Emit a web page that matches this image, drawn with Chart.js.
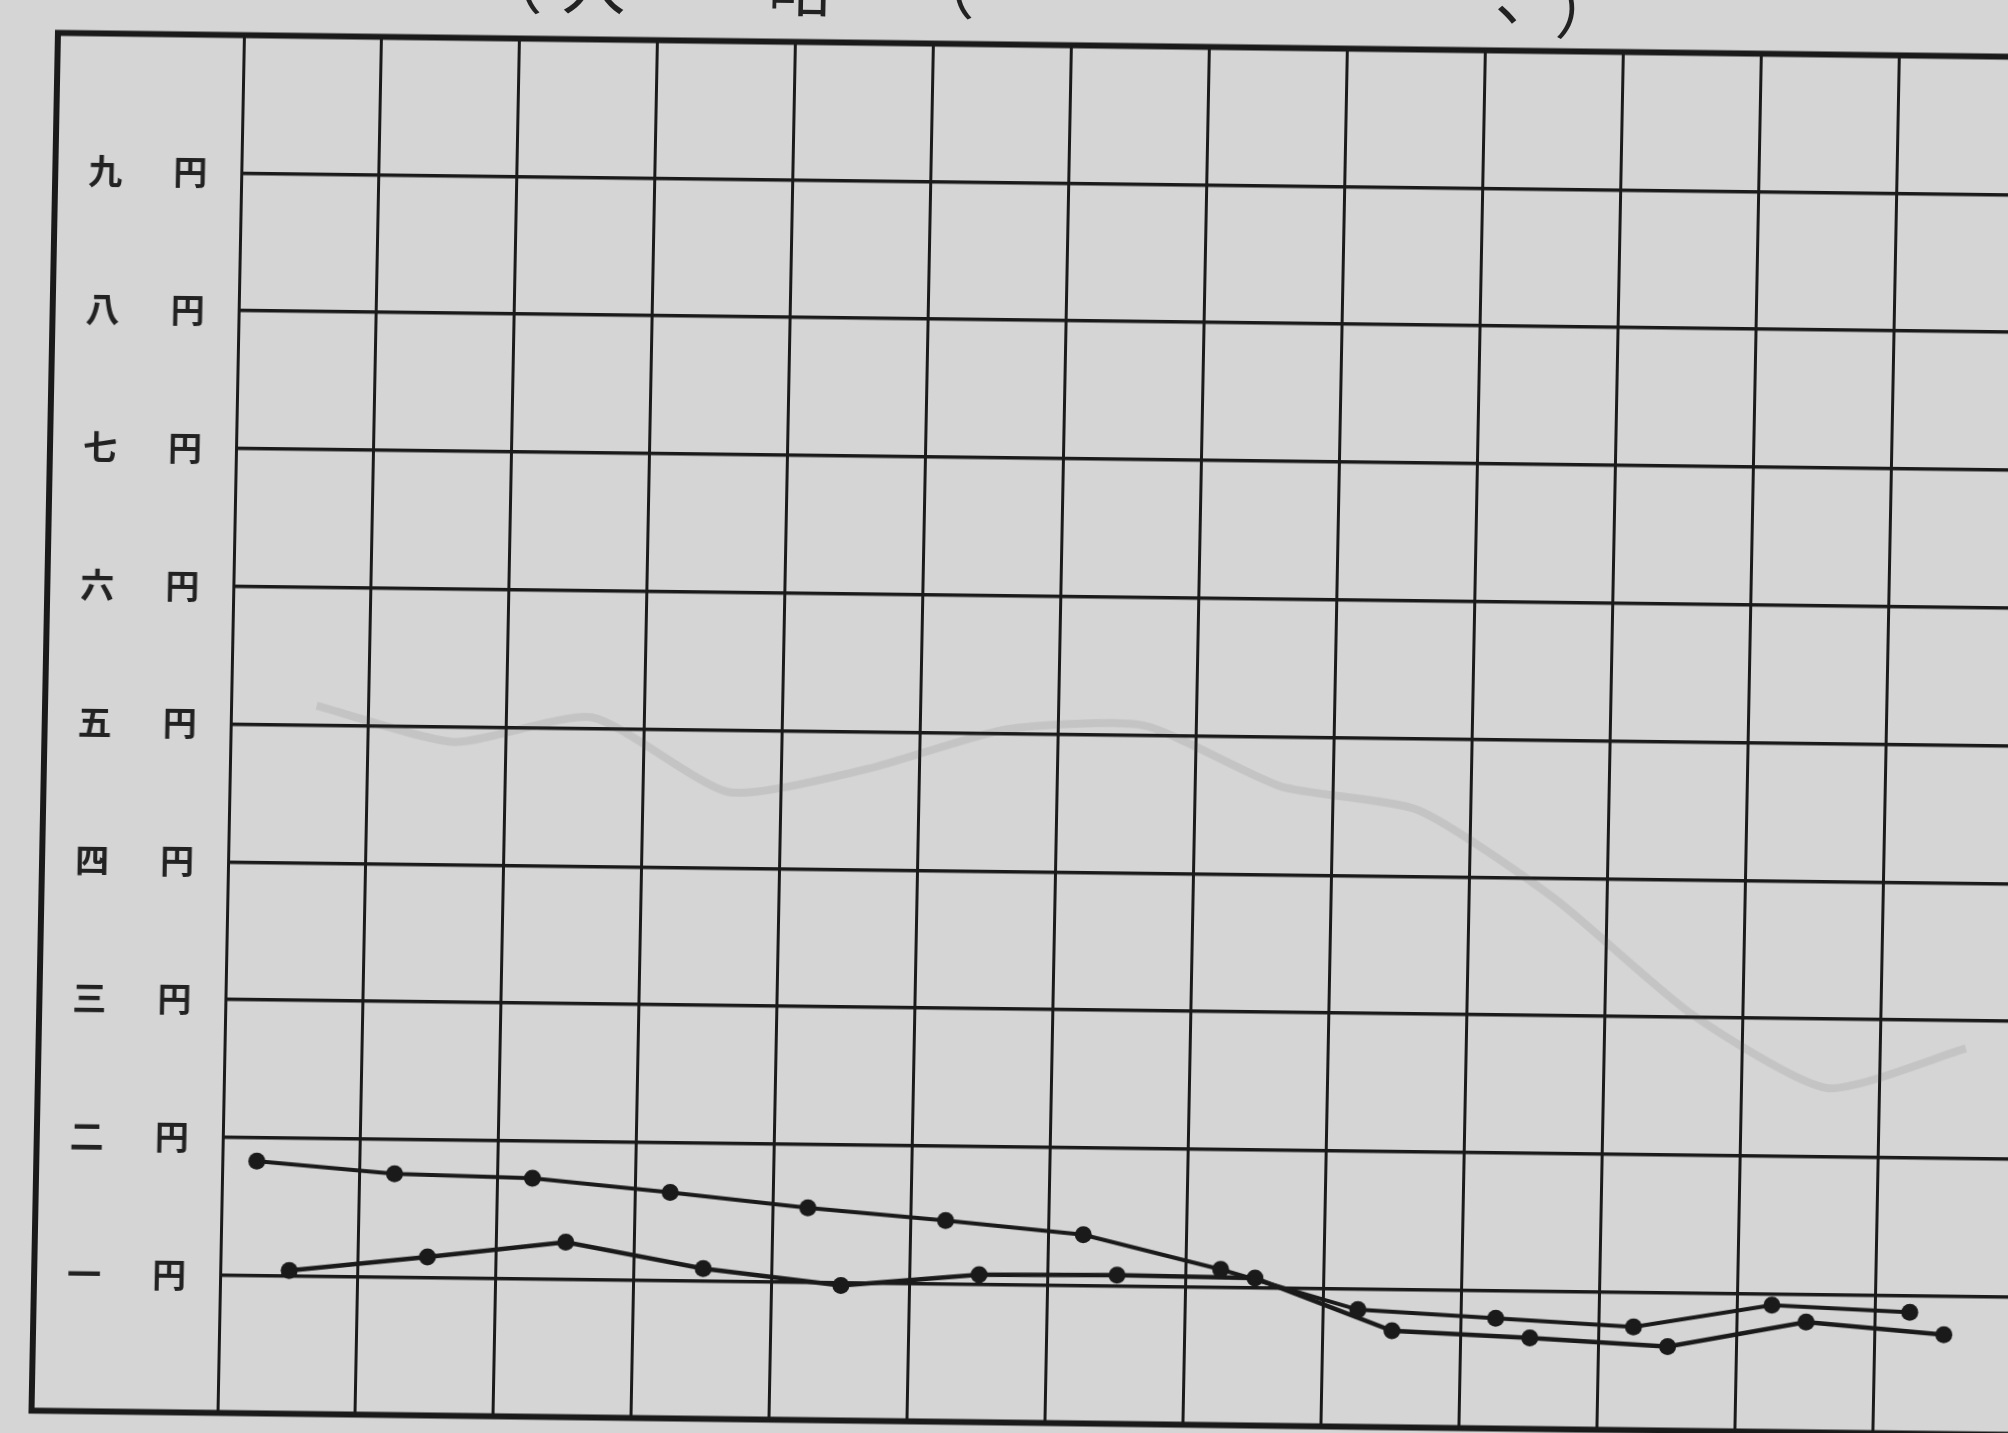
<!DOCTYPE html>
<html lang="ja">
<head>
<meta charset="utf-8">
<title>円</title>
<script src="https://cdn.jsdelivr.net/npm/chart.js@4.4.1/dist/chart.umd.min.js"></script>
<style>
  html, body { margin: 0; padding: 0; background: #d5d5d5; overflow: hidden; }
  #sheet {
    position: relative; width: 2008px; height: 1433px;
    transform-origin: 1004px 716px;
    transform: rotate(0.7deg) skewX(-0.4deg);
  }
  #chart { position: absolute; left: 39px; top: 36px; }
  .cap { position: absolute; top: -46px; font: 64px/1 "Noto Sans CJK JP"; color: #222; }
</style>
</head>
<body>
<div id="sheet">
  <span class="cap" style="left:465px">（</span>
  <span class="cap" style="left:548px">入</span>
  <span class="cap" style="left:754px">略</span>
  <span class="cap" style="left:897px">（</span>
  <span class="cap" style="left:1481px">、</span>
  <span class="cap" style="left:1541px;top:-34px">）</span>
  <canvas id="chart" width="2132" height="1395"></canvas>
</div>
<script>
// columns of the sheet (their headings are cut off below the frame)
const periods = ['1', '2', '3', '4', '5', '6', '7', '8', '9', '10', '11', '12', '13'];
const yenLabels = ['一', '二', '三', '四', '五', '六', '七', '八', '九'];

const upper = [1.83, 1.75, 1.73, 1.64, 1.54, 1.46, 1.37, 1.13, 0.85, 0.80, 0.75, 0.92, 0.88];
const lower = [1.04, 1.15, 1.27, 1.09, 0.98, 1.07, 1.08, 1.07, 0.70, 0.66, 0.61, 0.80, 0.72];
// faint line showing through from the back of the page
const showThrough = [5.14, 4.89, 5.08, 4.55, 4.73, 5.03, 5.07, 4.64, 4.48, 3.85, 3.03, 2.50, 2.80];

const INK = '#1a1a1a';
const pts = arr => arr.map((y, i) => ({ x: i, y }));

const frame = {
  id: 'frame',
  beforeDatasetsDraw(chart) {
    const { ctx, chartArea: a, width } = chart;
    const x0 = chart.options.layout.padding.left;
    ctx.save();
    ctx.strokeStyle = INK;
    ctx.lineWidth = 6;
    ctx.beginPath();
    ctx.moveTo(width, a.top);
    ctx.lineTo(x0, a.top);
    ctx.lineTo(x0, a.bottom);
    ctx.lineTo(width, a.bottom);
    ctx.stroke();
    ctx.restore();
  }
};

const n = periods.length;

new Chart(document.getElementById('chart'), {
  type: 'line',
  data: {
    datasets: [
      {
        label: 'show-through', data: pts(showThrough), xAxisID: 'xg',
        borderColor: 'rgba(60,60,60,0.11)', borderWidth: 8, pointRadius: 0, tension: 0.2,
      },
      {
        label: 'upper', data: pts(upper), xAxisID: 'xa',
        borderColor: INK, backgroundColor: INK, borderWidth: 4,
        pointRadius: 8.5, pointBorderWidth: 0, tension: 0,
      },
      {
        label: 'lower', data: pts(lower), xAxisID: 'x',
        borderColor: INK, backgroundColor: INK, borderWidth: 4.5,
        pointRadius: 8.5, pointBorderWidth: 0, tension: 0,
      },
    ],
  },
  options: {
    responsive: false,
    animation: false,
    layout: { padding: { top: 6, bottom: 6, left: 6, right: 0 } },
    plugins: { legend: { display: false }, tooltip: { enabled: false } },
    scales: {
      x: {
        type: 'linear', min: -0.5, max: n + 0.5,
        afterBuildTicks: s => { s.ticks = Array.from({ length: n + 2 }, (_, i) => ({ value: i - 0.5 })); },
        afterFit: s => { s.height = 0; s.paddingLeft = 0; s.paddingRight = 0; },
        ticks: { display: false },
        grid: { color: INK, lineWidth: 3, drawTicks: false },
        border: { display: false },
      },
      xa: { type: 'linear', display: false, min: -0.25, max: n + 0.75 },
      xg: { type: 'linear', display: false, min: -0.62, max: n + 0.38 },
      y: {
        min: 0, max: 10,
        afterFit: s => { s.width = 186; s.paddingTop = 0; s.paddingBottom = 0; },
        border: { display: false },
        grid: { color: INK, lineWidth: 3.5, drawTicks: false },
        ticks: {
          stepSize: 1, padding: 34, color: '#222',
          font: { family: '"Noto Sans CJK JP"', size: 34, weight: 'bold' },
          callback: v => (v >= 1 && v <= 9) ? yenLabels[v - 1] + '\u3000\u2002円' : '',
        },
      },
    },
  },
  plugins: [frame],
});
</script>
</body>
</html>
